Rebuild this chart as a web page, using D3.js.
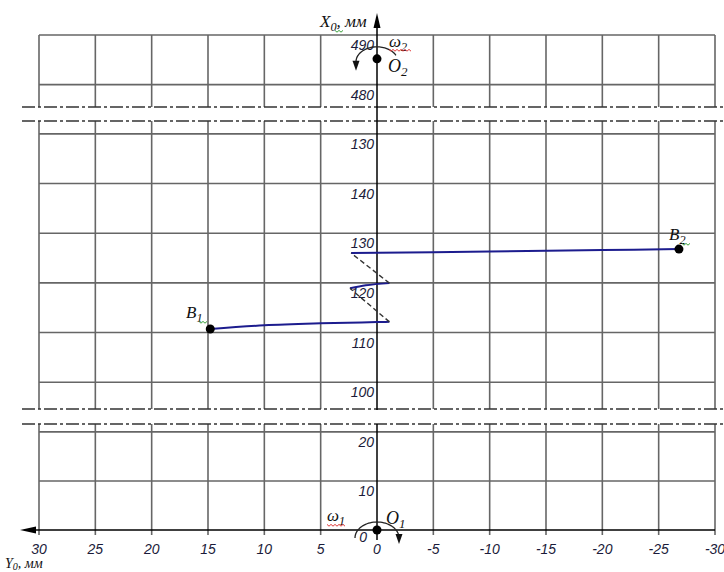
<!DOCTYPE html>
<html>
<head>
<meta charset="utf-8">
<script src="https://cdn.jsdelivr.net/npm/d3@7"></script>
<style>
  html, body { margin: 0; padding: 0; background: #fff; }
  svg { display: block; }
  .tick { font-family: "Liberation Sans", Arial, sans-serif; font-style: italic; font-size: 14px; fill: #1b1b3a; }
  .lab { font-family: "Liberation Serif", "Times New Roman", serif; font-style: italic; fill: #111; }
</style>
</head>
<body>
<svg id="chart" width="724" height="572"></svg>
<script>
// ---------- data ----------
const xTickVals   = [30, 25, 20, 15, 10, 5, 0, -5, -10, -15, -20, -25, -30];
const xTickLabels = ["30","25","20","15","10","5","0","-5","-10","-15","-20","-25","-30"];
const yTickVals   = [0, 10, 20, 100, 110, 120, 130, 140, 150, 480, 490];
const yTickLabels = ["0","10","20","100","110","120","130","140","130","480","490"];
// broken-axis segments (value ranges shown)
const segLo = [0, 94.6, 475.5];
const segHi = [21.6, 152.6, 490];
// trajectory pieces [Y0, X0]
const lowerPath  = [[14.8,110.7],[10,111.45],[5,111.85],[0,112.1],[-1.1,112.15]];
const middlePath = [[2.4,118.9],[1,119.5],[-1.1,119.95]];
const upperPath  = [[2.3,126.0],[-5,126.15],[-10,126.3],[-15,126.45],[-20,126.6],[-26.8,126.8]];
const jump1 = [[-1.1,112.15],[2.4,118.9]];
const jump2 = [[-1.1,119.95],[2.3,126.0]];
const pointB1 = [14.8,110.7];
const pointB2 = [-26.8,126.8];
const pointO1 = [0,0];
const pointO2 = [0,485.2];

// ---------- scales ----------
const svg = d3.select("#chart");
const x = d3.scaleLinear().domain([30,-30]).range([39,715]);
const y = d3.scaleLinear()
  .domain([segLo[0], segHi[0], segLo[1], segHi[1], segLo[2], segHi[2]])
  .range([530, 424, 409, 121, 107, 35]);

const gridColor = "#666";

// ---------- grid ----------
const grid = svg.append("g");
segLo.forEach((lo, i) => {
  const hi = segHi[i];
  const yb = y(lo) + (i === 0 ? 5 : 0);
  grid.selectAll(null).data(xTickVals.filter(v => v !== 0)).enter().append("line")
    .attr("x1", d => x(d)).attr("x2", d => x(d))
    .attr("y1", y(hi)).attr("y2", yb)
    .attr("stroke", gridColor).attr("stroke-width", 1.6);
  const hs = yTickVals.filter(v => v >= lo && v <= hi && v !== 0);
  grid.selectAll(null).data(hs).enter().append("line")
    .attr("x1", x(30)).attr("x2", x(-30))
    .attr("y1", d => y(d)).attr("y2", d => y(d))
    .attr("stroke", gridColor).attr("stroke-width", 1.6);
});

// break lines (dash-dot)
svg.append("g").selectAll("line").data([y(segLo[1]), y(segHi[0]), y(segLo[2]), y(segHi[1])]).enter()
  .append("line")
  .attr("x1", 22).attr("x2", 724)
  .attr("y1", d => d).attr("y2", d => d)
  .attr("stroke", "#333").attr("stroke-width", 1.3)
  .attr("stroke-dasharray", "13,3,3,3");

// ---------- axes ----------
const axes = svg.append("g");
axes.append("line").attr("x1", 30).attr("x2", x(-30)).attr("y1", y(0)).attr("y2", y(0))
  .attr("stroke", "#000").attr("stroke-width", 1.5);
axes.append("path").attr("d", `M20,${y(0)} L36,${y(0)-3.5} L36,${y(0)+3.5} Z`).attr("fill", "#000");
axes.append("line").attr("x1", x(0)).attr("x2", x(0)).attr("y1", y(0)+10).attr("y2", y(segHi[0]))
  .attr("stroke", "#000").attr("stroke-width", 1.5);
axes.append("line").attr("x1", x(0)).attr("x2", x(0)).attr("y1", y(segLo[1])+1).attr("y2", 22)
  .attr("stroke", "#000").attr("stroke-width", 1.5);
axes.append("path").attr("d", `M${x(0)},13 L${x(0)-3.5},28 L${x(0)+3.5},28 Z`).attr("fill", "#000");

// tick labels
svg.append("g").selectAll("text").data(xTickVals).enter().append("text")
  .attr("class", "tick")
  .attr("x", d => x(d)).attr("y", 554)
  .attr("text-anchor", "middle")
  .text((d, i) => xTickLabels[i]);
svg.append("g").selectAll("text").data(yTickVals).enter().append("text")
  .attr("class", "tick")
  .attr("x", d => d === 0 ? x(0) - 10 : x(0) - 3)
  .attr("y", d => d === 0 ? y(d) + 12 : y(d) + 15)
  .attr("text-anchor", "end")
  .text((d, i) => yTickLabels[i]);

// ---------- trajectory ----------
const line = d3.line().x(d => x(d[0])).y(d => y(d[1])).curve(d3.curveMonotoneX);
const navy = "#1c1c8e";
[lowerPath, middlePath, upperPath].forEach(p => {
  svg.append("path").attr("d", line(p.slice().sort((a,b)=>b[0]-a[0])))
    .attr("fill", "none").attr("stroke", navy).attr("stroke-width", 2);
});
[jump1, jump2].forEach(p => {
  svg.append("path").attr("d", d3.line().x(d => x(d[0])).y(d => y(d[1]))(p))
    .attr("fill", "none").attr("stroke", "#333").attr("stroke-width", 1.4)
    .attr("stroke-dasharray", "5,3");
});
svg.append("g").selectAll("circle").data([pointB1, pointB2, pointO1, pointO2]).enter()
  .append("circle").attr("cx", d => x(d[0])).attr("cy", d => y(d[1])).attr("r", 4.5).attr("fill", "#000");

// rotation arcs
function arcPath(cx, cy, rx, ry, a0, a1) {
  const pts = d3.range(0, 41).map(i => {
    const a = a0 + (a1 - a0) * i / 40;
    return [cx + rx * Math.cos(a), cy - ry * Math.sin(a)];
  });
  return d3.line()(pts);
}
const o2x = x(pointO2[0]), o2y = y(pointO2[1]);
svg.append("path").attr("d", arcPath(o2x, o2y + 3, 21, 15, 0.45, Math.PI))
  .attr("fill", "none").attr("stroke", "#222").attr("stroke-width", 1.3);
svg.append("path").attr("d", `M${o2x-21},${o2y+12} L${o2x-24.5},${o2y+2} L${o2x-17.5},${o2y+2} Z`).attr("fill", "#111");
const o1x = x(pointO1[0]), o1y = y(pointO1[1]);
svg.append("path").attr("d", arcPath(o1x, o1y + 8, 22, 16, 0, Math.PI))
  .attr("fill", "none").attr("stroke", "#222").attr("stroke-width", 1.3);
svg.append("path").attr("d", `M${o1x+22},${o1y+14} L${o1x+18.5},${o1y+4} L${o1x+25.5},${o1y+4} Z`).attr("fill", "#111");

// ---------- labels ----------
function label(xp, yp, main, sub, size, rest, subDy) {
  const sd = subDy == null ? 4 : subDy;
  const t = svg.append("text").attr("class", "lab").attr("x", xp).attr("y", yp).style("font-size", size + "px");
  t.append("tspan").text(main);
  t.append("tspan").attr("dy", sd).style("font-size", (size * 0.72) + "px").text(sub);
  if (rest) t.append("tspan").attr("dy", -sd).text(rest);
  return t;
}
function squiggle(x0, yb, w, color) {
  const pts = d3.range(0, Math.round(w / 2) + 1).map(i => [x0 + i * 2, yb + (i % 2 ? 1.2 : -0.6)]);
  svg.append("path").attr("d", d3.line()(pts)).attr("fill", "none").attr("stroke", color).attr("stroke-width", 1);
}
label(320, 27, "X", "0", 17, ", мм");
squiggle(335, 31, 8, "#3aa03a");
label(5, 568, "Y", "0", 14, ", мм", 2);
label(186, 318, "B", "1", 17);
squiggle(199, 322, 7, "#3aa03a");
label(669, 240, "B", "2", 17);
squiggle(682, 244, 7, "#3aa03a");
label(389, 47, "ω", "2", 17);
squiggle(389, 50, 22, "#e03a3a");
label(388, 72, "O", "2", 18);
label(327, 521, "ω", "1", 17);
squiggle(327, 525, 18, "#e03a3a");
label(386, 524, "O", "1", 18);
</script>
</body>
</html>
